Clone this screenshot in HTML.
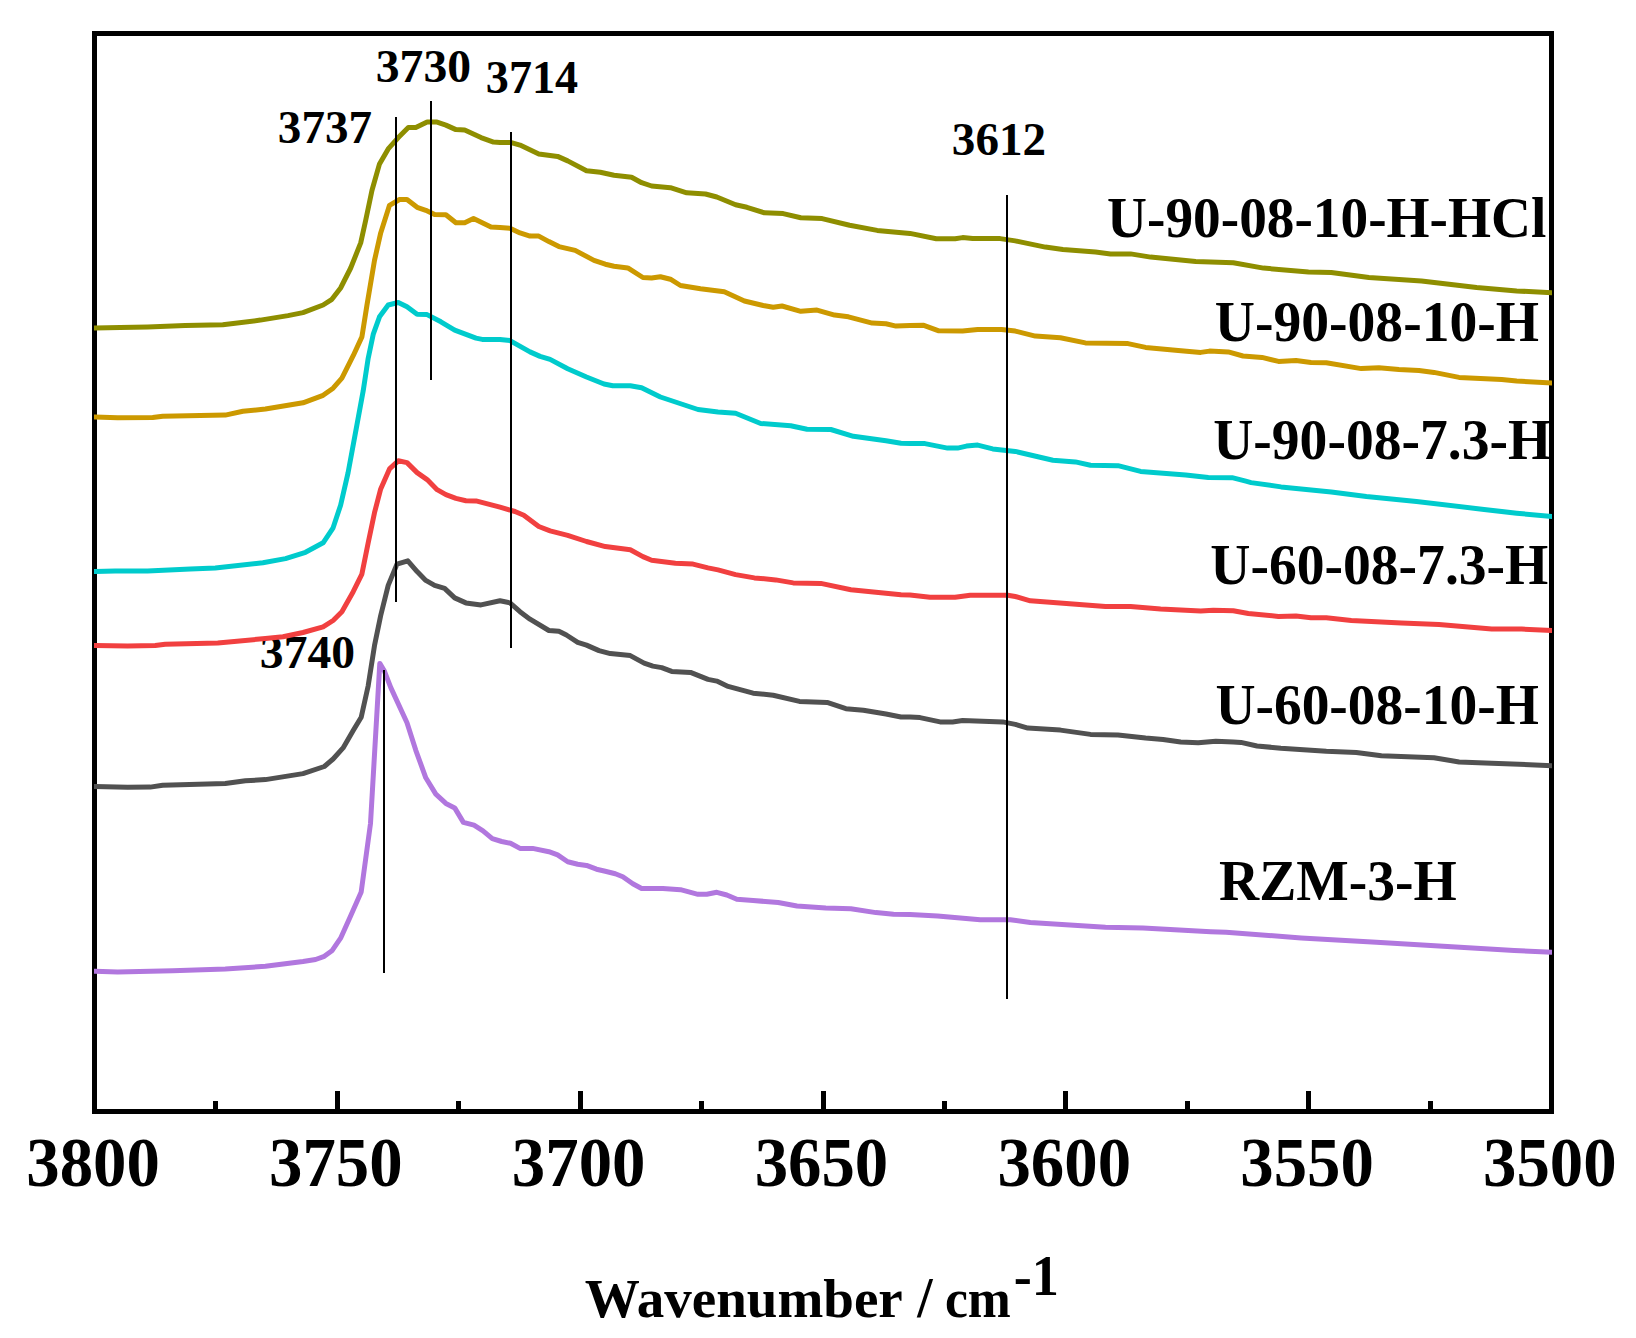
<!DOCTYPE html>
<html lang="en"><head><meta charset="utf-8"><title>FTIR spectra</title>
<style>
html,body{margin:0;padding:0;background:#fff;}
body{width:1636px;height:1338px;overflow:hidden;}
svg{display:block;}
text{font-family:"Liberation Serif","Times New Roman",serif;font-weight:bold;fill:#000;font-size:100px;}
.c{fill:none;stroke-width:5;stroke-linejoin:round;stroke-linecap:butt;}
.v{stroke:#000;stroke-width:2;shape-rendering:crispEdges;}
.t{stroke:#000;stroke-width:5;shape-rendering:crispEdges;}
</style></head><body>
<svg width="1636" height="1338" viewBox="0 0 1636 1338">
<rect x="0" y="0" width="1636" height="1338" fill="#fff"/>
<defs><clipPath id="pc"><rect x="94" y="33" width="1458" height="1080"/></clipPath></defs>
<text transform="translate(375.79,82.07) scale(0.4766,0.4657)">3730</text>
<text transform="translate(485.85,93.12) scale(0.4613,0.4625)">3714</text>
<text transform="translate(277.87,143.11) scale(0.4709,0.4694)">3737</text>
<text transform="translate(951.81,155.18) scale(0.4714,0.4618)">3612</text>
<text transform="translate(259.84,668.11) scale(0.4763,0.4694)">3740</text>
<text transform="translate(1107.09,236.60) scale(0.5531,0.5650)">U-90-08-10-H-HCl</text>
<text transform="translate(1214.79,340.70) scale(0.5560,0.5650)">U-90-08-10-H</text>
<text transform="translate(1213.19,459.20) scale(0.5559,0.5650)">U-90-08-7.3-H</text>
<text transform="translate(1210.29,584.00) scale(0.5559,0.5650)">U-60-08-7.3-H</text>
<text transform="translate(1215.39,723.70) scale(0.5547,0.5650)">U-60-08-10-H</text>
<text transform="translate(1219.09,900.10) scale(0.5559,0.5650)">RZM-3-H</text>
<rect x="94.5" y="33.5" width="1457" height="1078" fill="none" stroke="#000" stroke-width="5"/>
<g clip-path="url(#pc)">
<polyline class="c" stroke="#515151" points="90.0,786.6 95.0,786.6 127.6,787.3 150.2,787.1 162.7,785.3 225.3,783.6 245.4,780.8 265.4,779.6 303.0,773.6 324.3,766.5 333.1,759.0 343.1,747.9 353.2,730.5 361.2,717.3 368.2,685.7 374.5,645.6 380.7,615.5 388.2,585.4 397.0,564.1 407.8,560.8 417.1,571.6 425.8,580.4 434.6,585.4 444.6,588.4 454.7,597.9 465.9,602.9 481.0,604.9 500.0,600.8 510.0,602.9 520.0,611.7 530.0,619.2 548.9,630.5 558.9,631.3 566.4,635.0 577.7,642.3 586.5,645.1 599.0,650.6 610.3,653.6 630.3,655.6 644.1,663.1 652.9,666.1 661.7,667.6 671.7,671.4 690.5,672.4 708.0,679.4 716.8,681.1 728.1,686.4 753.1,693.2 773.2,695.2 799.5,701.4 827.1,702.4 845.9,708.7 863.4,710.2 886.0,714.0 901.0,717.0 910.0,716.9 920.0,717.6 940.1,721.9 952.6,721.9 962.6,720.6 1002.7,721.9 1015.3,724.4 1027.8,728.1 1060.4,730.1 1090.5,734.4 1118.0,735.1 1145.6,738.1 1163.1,739.4 1180.7,741.9 1198.2,742.7 1215.8,741.2 1233.3,741.9 1241.0,742.4 1257.0,746.0 1280.9,748.2 1326.3,751.2 1356.3,752.4 1381.4,755.7 1434.0,757.7 1459.1,762.0 1491.7,763.2 1552.0,765.7 1556.0,765.7"/>
<polyline class="c" stroke="#F14040" points="90.0,645.6 95.0,645.6 127.6,646.1 155.2,645.6 165.2,644.3 217.8,643.0 265.4,638.5 283.0,636.8 303.0,632.5 323.1,626.8 333.1,620.5 341.9,611.7 353.2,591.7 361.9,574.1 368.2,542.8 374.5,512.7 380.7,488.9 389.5,468.9 398.3,460.8 407.0,462.6 417.1,472.6 427.1,479.6 437.1,489.7 445.9,494.7 455.9,498.4 465.9,500.7 476.0,500.9 500.0,507.2 515.0,511.5 523.8,515.2 538.8,526.5 550.1,530.8 567.7,535.3 586.5,541.5 605.3,546.6 630.3,549.8 642.9,556.6 651.6,560.3 675.4,563.3 693.0,564.1 708.0,567.9 718.0,569.9 735.6,574.6 754.4,577.9 775.7,579.9 793.2,582.9 820.8,583.4 850.9,589.7 875.9,592.2 901.0,594.7 910.0,595.0 930.0,597.3 955.1,597.3 970.2,595.3 1007.7,595.3 1015.3,596.5 1030.3,600.8 1072.9,604.1 1105.5,606.6 1130.6,606.6 1160.6,609.1 1200.7,611.1 1213.3,610.3 1233.3,610.8 1248.3,613.5 1278.4,616.4 1296.0,616.1 1311.0,617.8 1326.3,617.8 1351.3,620.4 1401.4,622.9 1439.0,624.6 1491.7,629.1 1521.7,629.1 1552.0,630.4 1556.0,630.4"/>
<polyline class="c" stroke="#B177DE" points="90.0,971.3 95.0,971.3 117.6,972.1 172.7,970.8 225.3,969.0 265.4,966.3 303.0,961.5 315.6,959.5 324.3,956.3 331.9,950.8 340.6,938.2 350.7,915.7 361.2,891.9 370.5,823.5 379.8,663.4 384.5,671.3 390.8,687.6 407.0,722.7 415.8,750.3 425.8,777.8 435.8,794.1 445.9,803.4 454.7,807.9 463.4,822.4 474.0,825.2 483.0,830.8 492.3,838.6 501.7,841.5 510.5,843.3 520.0,848.4 532.6,848.4 548.9,851.7 557.6,854.9 567.7,861.7 577.7,864.2 586.5,865.4 596.5,869.2 605.3,871.2 615.3,873.7 622.8,876.7 632.8,883.7 641.6,888.5 662.9,888.5 680.5,889.7 698.0,894.3 706.8,894.3 716.8,892.3 726.8,895.0 736.8,899.3 753.1,900.5 778.2,902.5 797.0,906.0 825.8,908.0 850.9,908.8 875.9,912.6 893.5,914.3 910.0,914.5 937.6,915.9 980.2,919.7 1010.3,919.7 1030.3,922.5 1105.5,927.2 1143.1,928.0 1210.8,931.7 1226.0,932.2 1301.2,938.0 1376.4,942.3 1451.6,946.8 1514.2,950.5 1552.0,952.3 1556.0,952.3"/>
<polyline class="c" stroke="#CC9900" points="90.0,417.1 95.0,417.1 117.6,417.8 152.7,417.6 162.7,416.3 225.3,415.1 242.9,411.3 265.4,409.0 303.0,402.8 323.1,395.3 333.1,388.2 341.9,378.2 353.2,355.7 361.9,336.9 366.9,305.5 374.5,260.4 380.7,232.9 389.5,205.3 399.5,199.5 407.0,199.5 417.1,207.3 425.8,210.3 434.6,214.6 445.9,214.8 455.9,222.8 464.7,222.8 473.5,218.6 491.0,227.1 500.0,227.5 510.0,228.3 520.0,232.9 530.0,236.1 538.8,236.1 548.9,241.6 558.9,246.6 575.2,250.4 594.0,260.4 605.3,264.2 614.0,266.2 627.8,267.9 642.9,277.5 651.6,278.0 660.4,276.7 670.4,279.2 680.5,285.5 700.5,288.7 724.3,291.8 744.4,301.0 763.2,305.5 773.2,307.3 782.0,306.0 800.8,311.3 817.0,310.1 834.6,315.1 848.4,316.8 872.2,323.1 886.0,323.8 896.0,326.1 910.0,325.5 923.8,325.3 938.8,330.8 962.6,331.1 977.7,329.6 1001.5,329.6 1015.3,331.1 1035.3,336.1 1060.4,337.8 1085.4,342.9 1128.0,343.6 1145.6,347.4 1178.2,350.4 1200.7,352.4 1209.5,351.1 1228.3,351.9 1243.0,356.0 1262.0,357.4 1278.5,361.4 1296.0,360.6 1311.0,362.4 1326.3,362.8 1361.3,368.6 1378.9,367.8 1398.9,369.6 1419.0,370.4 1434.0,372.4 1459.1,377.4 1501.7,379.6 1516.7,381.1 1552.0,382.9 1556.0,382.9"/>
<polyline class="c" stroke="#00CBCC" points="90.0,571.6 95.0,571.6 115.1,571.1 147.6,570.9 190.3,569.1 215.3,567.9 262.9,562.8 285.5,558.6 305.5,552.3 323.1,542.8 333.1,527.8 340.6,505.2 348.1,472.6 356.9,425.0 363.2,390.8 368.2,358.2 373.2,334.4 379.5,316.8 388.2,305.0 398.3,302.5 407.0,306.8 417.1,314.3 427.1,314.6 440.9,321.8 454.7,330.1 476.0,338.1 482.2,339.4 500.0,339.4 510.0,340.6 530.0,351.9 540.1,356.4 550.1,359.4 567.7,368.7 586.5,377.0 604.0,384.0 612.8,385.7 630.3,385.7 641.6,387.7 660.4,397.0 698.0,409.5 718.0,412.1 735.6,413.3 760.7,423.5 790.7,425.8 807.0,429.3 830.8,429.5 853.4,436.3 886.0,440.8 901.0,443.3 910.0,443.5 925.0,443.6 947.6,448.1 957.6,448.1 966.4,446.1 977.7,445.1 992.7,448.9 1015.3,451.4 1052.9,460.2 1075.4,461.9 1090.5,465.2 1118.0,465.7 1140.6,471.4 1185.7,474.9 1208.3,477.4 1232.1,477.7 1245.8,481.2 1251.1,482.6 1281.1,486.9 1331.3,491.9 1366.4,496.4 1416.5,501.4 1484.1,509.4 1516.7,513.2 1552.0,516.6 1556.0,516.6"/>
<polyline class="c" stroke="#8E8E00" points="90.0,328.1 95.0,328.1 120.1,327.6 147.6,327.1 185.2,325.6 222.8,324.8 260.4,320.1 288.0,315.6 303.0,312.6 323.1,305.0 331.9,299.3 340.6,288.0 350.7,268.0 360.7,242.9 365.7,220.3 372.0,190.3 379.5,163.9 388.2,148.9 398.3,137.6 408.3,127.6 415.8,127.6 427.1,122.1 437.1,122.1 445.9,125.1 455.9,129.6 464.7,130.1 481.0,137.6 493.5,142.1 500.0,142.4 511.3,142.6 520.0,145.1 538.8,153.9 557.6,156.4 567.7,160.9 586.5,170.7 600.3,172.2 614.0,175.2 631.6,177.2 641.6,182.7 651.6,186.0 670.4,187.7 686.7,192.8 705.5,194.0 716.8,197.0 735.6,204.8 746.9,207.3 764.4,212.8 783.2,213.6 800.8,217.8 822.1,218.6 849.6,225.3 877.2,230.4 910.0,233.4 936.3,238.8 955.1,238.8 962.6,237.6 972.7,238.6 1000.2,238.6 1015.3,240.9 1045.3,247.1 1062.9,249.6 1095.5,252.1 1110.5,253.9 1130.6,253.9 1150.6,257.1 1195.7,261.4 1233.3,262.7 1263.5,268.1 1308.5,271.9 1331.3,272.6 1368.9,277.6 1421.5,280.9 1476.6,287.6 1516.7,290.9 1552.0,292.7 1556.0,292.7"/>
<line class="v" x1="396" y1="117" x2="396" y2="602"/>
<line class="v" x1="431" y1="101" x2="431" y2="380"/>
<line class="v" x1="511" y1="132" x2="511" y2="648"/>
<line class="v" x1="1007" y1="195" x2="1007" y2="999"/>
<line class="v" x1="384" y1="670" x2="384" y2="973"/>
</g>
<line class="t" x1="215.5" y1="1101" x2="215.5" y2="1110"/>
<text transform="translate(26.23,1185.71) scale(0.6682,0.6940)">3800</text>
<line class="t" x1="337.4" y1="1091" x2="337.4" y2="1110"/>
<line class="t" x1="458.8" y1="1101" x2="458.8" y2="1110"/>
<text transform="translate(269.03,1185.71) scale(0.6682,0.6940)">3750</text>
<line class="t" x1="580.2" y1="1091" x2="580.2" y2="1110"/>
<line class="t" x1="701.6" y1="1101" x2="701.6" y2="1110"/>
<text transform="translate(511.83,1185.71) scale(0.6682,0.6940)">3700</text>
<line class="t" x1="823.0" y1="1091" x2="823.0" y2="1110"/>
<line class="t" x1="944.4" y1="1101" x2="944.4" y2="1110"/>
<text transform="translate(754.63,1185.71) scale(0.6682,0.6940)">3650</text>
<line class="t" x1="1065.8" y1="1091" x2="1065.8" y2="1110"/>
<line class="t" x1="1187.2" y1="1101" x2="1187.2" y2="1110"/>
<text transform="translate(997.43,1185.71) scale(0.6682,0.6940)">3600</text>
<line class="t" x1="1308.6" y1="1091" x2="1308.6" y2="1110"/>
<line class="t" x1="1430.0" y1="1101" x2="1430.0" y2="1110"/>
<text transform="translate(1240.23,1185.71) scale(0.6682,0.6940)">3550</text>
<text transform="translate(1483.03,1185.71) scale(0.6682,0.6940)">3500</text>
<text transform="translate(584.75,1316.90) scale(0.5506,0.5500)">Wavenumber</text>
<text transform="translate(917.25,1317.42) scale(0.5533,0.5780)">/</text>
<text transform="translate(944.95,1316.90) scale(0.5163,0.5500)">cm</text>
<text transform="translate(1013.63,1295.10) scale(0.5432,0.5652)">-1</text>
</svg>
</body></html>
